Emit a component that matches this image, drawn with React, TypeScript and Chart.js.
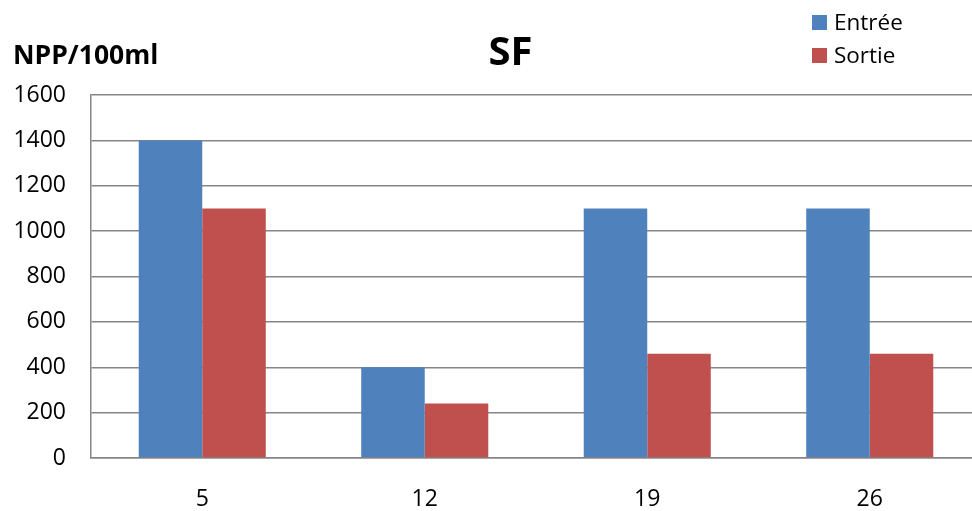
import React, { useEffect, useRef } from "react";
import { Chart, registerables } from "chart.js";

Chart.register(...registerables);

const categories = ["5", "12", "19", "26"];
const seriesNames = ["Entrée", "Sortie"];
const entreeValues = [1400, 400, 1100, 1100];
const sortieValues = [1100, 240, 460, 460];
const seriesColors = ["#4F81BD", "#C0504D"];
const yMin = 0;
const yMax = 1600;
const yStep = 200;
const chartTitle = "SF";
const yAxisTitle = "NPP/100ml";

const FONT = "'Open Sans', 'Liberation Sans', sans-serif";
const CANVAS_W = 990;
const CANVAS_H = 511;

const overlayPlugin = {
  id: "overlay",
  afterDraw(chart: any) {
    const ctx = chart.ctx;
    ctx.save();
    ctx.fillStyle = "#000";
    ctx.textBaseline = "alphabetic";
    // Title
    ctx.font = `bold 40px ${FONT}`;
    ctx.textAlign = "center";
    ctx.fillText(chartTitle, 510.5, 65);
    // Y axis title
    ctx.font = `bold 26.5px ${FONT}`;
    ctx.textAlign = "left";
    ctx.fillText(yAxisTitle, 13, 64);
    // Legend
    ctx.font = `22.5px ${FONT}`;
    chart.data.datasets.forEach((ds: any, i: number) => {
      const top = 15 + i * 33;
      ctx.fillStyle = ds.backgroundColor;
      ctx.fillRect(812, top, 15, 15);
      ctx.fillStyle = "#000";
      ctx.fillText(ds.label, 834, top + 15);
    });
    ctx.restore();
  },
};

export default function App() {
  const ref = useRef<HTMLCanvasElement | null>(null);
  useEffect(() => {
    if (!ref.current) return;
    const chart = new Chart(ref.current, {
      type: "bar",
      data: {
        labels: categories,
        datasets: [
          { label: seriesNames[0], data: entreeValues, backgroundColor: seriesColors[0] },
          { label: seriesNames[1], data: sortieValues, backgroundColor: seriesColors[1] },
        ],
      },
      options: {
        animation: false,
        responsive: false,
        maintainAspectRatio: false,
        layout: { padding: { top: 95, right: CANVAS_W - 981, left: 0, bottom: 0 } },
        datasets: { bar: { categoryPercentage: 0.571, barPercentage: 1 } },
        plugins: { legend: { display: false }, title: { display: false }, tooltip: { enabled: false } },
        scales: {
          x: {
            grid: { display: false, drawTicks: false },
            border: { display: true, color: "#868686", width: 1.5 },
            ticks: { color: "#000", font: { family: FONT, size: 23 }, padding: 28 },
            afterFit: (s: any) => { s.height = 53; },
          },
          y: {
            min: yMin,
            max: yMax,
            grid: { color: "#868686", lineWidth: 1.5, drawTicks: false },
            border: { display: true, color: "#868686", width: 1.5 },
            ticks: {
              stepSize: yStep,
              color: "#000",
              font: { family: FONT, size: 23 },
              padding: 25,
              callback: (v: any) => String(v),
            },
            afterFit: (s: any) => { s.width = 91; },
          },
        },
      },
      plugins: [overlayPlugin],
    });
    return () => chart.destroy();
  }, []);
  return (
    <div style={{ position: "fixed", left: 0, top: 0, width: 972, height: 511, overflow: "hidden", background: "#fff" }}>
      <canvas ref={ref} width={CANVAS_W} height={CANVAS_H} style={{ display: "block", width: CANVAS_W, height: CANVAS_H }} />
    </div>
  );
}
